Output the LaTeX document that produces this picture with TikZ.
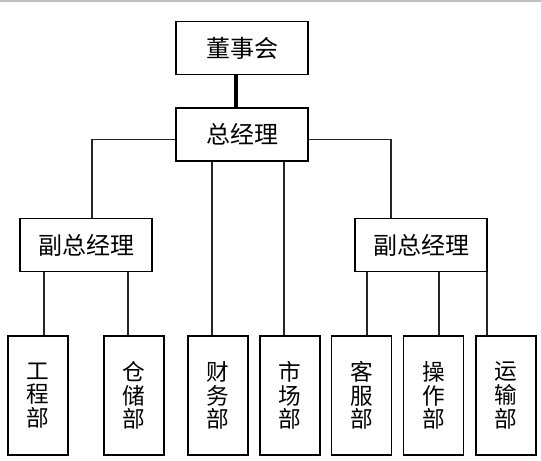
\documentclass[tikz,border=0pt]{standalone}
\usepackage{fontspec}
\newfontfamily\cjk{Noto Sans CJK SC}
\usetikzlibrary{positioning}

\tikzset{
	post/.style={draw, line width=1.1pt, minimum width=99pt, minimum height=40pt, inner sep=0pt, font=\cjk\fontsize{18}{20}\selectfont},
	dept/.style={draw, line width=1.1pt, minimum width=45pt, minimum height=89pt, inner sep=0pt, text width=18pt, align=center, font=\cjk\fontsize{17}{17.8}\selectfont},
	link/.style={line width=0.8pt, black!85},
}

\begin{document}
\begin{tikzpicture}[x=0.75pt, y=-0.75pt]
		\useasboundingbox (0,0) rectangle (541,460);
		\draw[black!25, line width=1.2pt] (0,0.8) -- (541,0.8);

		\node [post] (board) at (242,48) {董事会};
		\node [post] (ceo) at (242,134.5) {总经理};
		\node [post] (vpl) at (86,245) {副总经理};
		\node [post] (vpr) at (421,245) {副总经理};

		\node [dept] (eng) at (38,395.5) {工\\程\\部};
		\node [dept] (wh)  at (134,395.5) {仓\\储\\部};
		\node [dept] (fin) at (218,395.5) {财\\务\\部};
		\node [dept] (mkt) at (290,395.5) {市\\场\\部};
		\node [dept] (cs)  at (361.5,395.5) {客\\服\\部};
		\node [dept] (op)  at (433.5,395.5) {操\\作\\部};
		\node [dept] (tr)  at (506,395.5) {运\\输\\部};

		\draw [line width=2.4pt] ([xshift=-4.5pt]board.south) -- ([xshift=-4.5pt]ceo.north);
		\draw [link] ([yshift=-4pt]ceo.west) -| ([xshift=4.5pt]vpl.north);
		\draw [link] ([yshift=-4pt]ceo.east) -| ([xshift=-22.5pt]vpr.north);
		\foreach \up/\dn/\dx in {ceo/fin/-6, ceo/mkt/-6, vpl/eng/6, vpl/wh/-6, vpr/cs/5.5, vpr/op/5.5, vpr/tr/-19}
			\draw [link] ([xshift=\dx*0.75pt]\dn.north) coordinate (t) -- (t |- \up.south);
	\end{tikzpicture}
\end{document}
